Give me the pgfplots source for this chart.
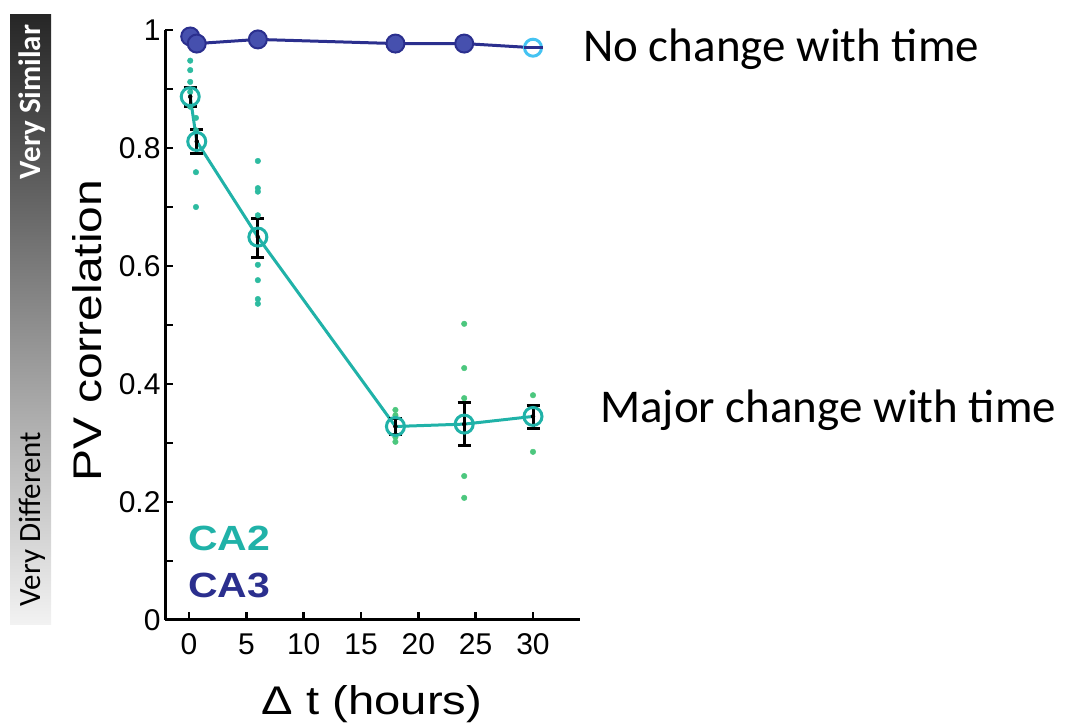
\documentclass[border=0pt]{standalone}
\usepackage{fontspec}
\setmainfont{Liberation Sans}
\newfontfamily\calibri{Carlito}
\usepackage{graphicx}
\usepackage{pgfplots}
\pgfplotsset{compat=1.18}
\definecolor{catwo}{HTML}{20B2A8}
\definecolor{cathree}{HTML}{2B2F8E}
\definecolor{cathreefill}{HTML}{4650AE}
\definecolor{lightblue}{HTML}{45C3F2}
\definecolor{dotteal}{HTML}{2DBBA0}
\definecolor{dotgreen}{HTML}{4CC77E}
\begin{document}
\begin{tikzpicture}
\path (0pt,0pt) rectangle (1082pt,725pt);
\shade[top color=black!85, bottom color=black!5] (10pt,100pt) rectangle (51pt,710pt);
\node[rotate=90, text=white, inner sep=0, font=\calibri\bfseries\fontsize{31}{33}\selectfont] at (32pt,623pt) {Very Similar};
\node[rotate=90, inner sep=0, font=\calibri\fontsize{31}{33}\selectfont] at (32pt,206pt) {Very Different};
\begin{axis}[
  at={(165pt,105pt)}, anchor=south west,
  scale only axis, width=415pt, height=590pt,
  xmin=-2.1, xmax=34.1, ymin=0, ymax=1,
  axis x line*=bottom, axis y line*=left,
  axis line style={line width=3pt, black},
  tick align=inside,
  major tick length=8pt, minor tick length=8pt,
  every tick/.style={black, line width=2.5pt},
  xtick={0,5,10,15,20,25,30},
  ytick={0,0.2,0.4,0.6,0.8,1},
  minor ytick={0.1,0.3,0.5,0.7,0.9},
  /pgf/number format/assume math mode=true,
  tick label style={font=\fontsize{30}{31}\selectfont},
  yticklabel style={xshift=-1pt},
  xticklabel style={yshift=-10pt},
  xlabel={\scalebox{1.18}[1]{Δ t (hours)}},
  xlabel style={at={(axis description cs:0.499,-0.142)}, anchor=center, font=\fontsize{40}{44}\selectfont},
  ylabel={\scalebox{1.2}[1]{PV correlation}},
  ylabel style={at={(axis description cs:-0.187,0.491)}, anchor=center, font=\fontsize{40}{44}\selectfont},
  clip=false,
]
% individual data points
\addplot[only marks, mark=*, mark size=2.8pt, dotteal, mark options={draw=none, fill=dotteal}] coordinates {
 (0.1,0.948) (0.1,0.932) (0.1,0.912) (0.1,0.895) (0.1,0.870)
 (0.6,0.851) (0.6,0.830) (0.6,0.759) (0.6,0.700)
 (6,0.778) (6,0.732) (6,0.726) (6,0.686) (6,0.602) (6,0.576) (6,0.544) (6,0.536)
};
\addplot[only marks, mark=*, mark size=2.8pt, dotgreen, mark options={draw=none, fill=dotgreen}] coordinates {
 (18,0.356) (18,0.347) (18,0.310) (18,0.302)
 (24,0.502) (24,0.427) (24,0.376) (24,0.244) (24,0.207)
 (30,0.381) (30,0.285)
};
% CA2 mean line
\addplot[catwo, line width=3pt, mark=o, mark size=9pt, mark options={line width=3pt, catwo}] coordinates {
 (0.1,0.887) (0.67,0.811) (6,0.649) (18,0.328) (24,0.332) (30,0.345)
};
% CA2 error bars
\addplot[only marks, mark=none, error bars/.cd, y dir=both, y explicit,
  error bar style={draw=black, line width=3pt},
  error mark options={draw=black, line width=3pt, mark size=6.5pt, rotate=90}] coordinates {
 (0.1,0.887) += (0,0.016) -= (0,0.017)
 (0.67,0.811) += (0,0.021) -= (0,0.021)
 (6,0.649) += (0,0.032) -= (0,0.035)
 (18,0.328) += (0,0.014) -= (0,0.013)
 (24,0.332) += (0,0.036) -= (0,0.037)
 (30,0.345) += (0,0.019) -= (0,0.021)
};
% CA3
\addplot[cathree, line width=3pt, mark=*, mark size=9pt, mark options={line width=2pt, draw=cathree, fill=cathreefill}] coordinates {
 (0.1,0.989) (0.67,0.977) (6,0.984) (18,0.977) (24,0.977)
};
\addplot[cathree, line width=3pt, mark=none] coordinates {(24,0.977) (30,0.970)};
\addplot[only marks, mark=*, mark size=8.5pt, mark options={line width=3pt, draw=lightblue, fill=white}] coordinates {(30,0.970)};
\addplot[only marks, mark=-, mark size=9.5pt, mark options={line width=3pt, draw=cathree}] coordinates {(30,0.970)};
\end{axis}
\node[anchor=west, inner sep=0, text=catwo, font=\bfseries\fontsize{35}{38}\selectfont] at (188pt,187pt) {\scalebox{1.17}[1]{CA2}};
\node[anchor=west, inner sep=0, text=cathree, font=\bfseries\fontsize{35}{38}\selectfont] at (188pt,140pt) {\scalebox{1.17}[1]{CA3}};
\node[anchor=base west, inner sep=0, font=\calibri\fontsize{47}{50}\selectfont] at (583pt,663pt) {No change with time};
\node[anchor=base west, inner sep=0, font=\calibri\fontsize{47}{50}\selectfont] at (600pt,302pt) {Major change with time};
\end{tikzpicture}
\end{document}
